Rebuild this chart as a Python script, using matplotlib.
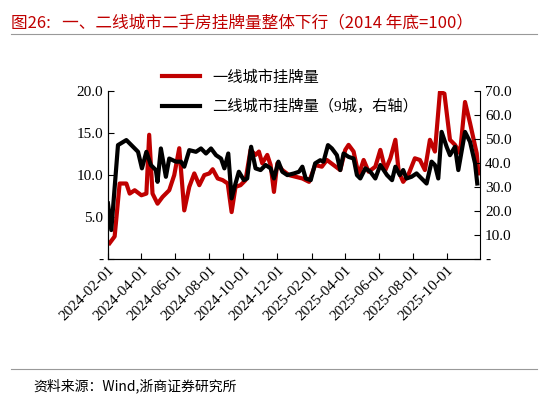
import matplotlib
matplotlib.use("Agg")
import matplotlib.pyplot as plt
import matplotlib.dates as mdates
import pandas as pd

plt.rcParams['font.family'] = ['Liberation Serif', 'Noto Sans CJK SC']

base = pd.Timestamp("2024-02-01")
red_days = [3,12,21,33,39,48,60,69,74,80,89,98,110,119,128,137,146,155,164,173,
            182,188,197,206,215,222,229,238,247,256,265,271,277,286,292,298,304,313,325,337,
            349,361,372,384,393,405,417,426,432,441,450,459,468,480,489,498,507,516,522,530,
            539,551,560,569,578,587,596,604,614,623,632,641,650,662,665]
red_vals = [1.9,2.7,9.0,9.0,7.8,8.2,7.6,7.8,14.8,7.8,6.6,7.4,8.2,10,13.2,5.8,8.6,10.2,8.8,10,
            10.2,10.7,9.6,9.4,9.0,5.6,8.6,8.8,9.4,13,12.4,12.8,11.4,12.4,11.2,8.0,11.4,10.6,10,9.8,
            9.6,9.2,11.2,11,11.8,11.2,10.6,13,13.6,12.8,10,11.8,10.4,11,13,10.6,12,14.2,10.4,9.2,
            10,12,11.8,10.6,14.2,12.8,19.9,19.7,14.2,13.6,12.6,18.7,16.2,12.6,10.2]
blk_days = [0,6,18,33,42,54,61,69,77,86,89,95,104,110,122,131,137,146,158,167,
            176,185,194,203,209,216,222,229,235,244,250,257,265,274,283,292,298,306,313,322,
            334,343,349,355,364,372,381,387,395,402,411,417,423,432,441,447,453,462,471,480,
            489,501,510,516,524,530,536,545,554,563,572,581,587,593,599,608,614,623,629,641,
            650,659,663]
blk_vals = [23.2,12.1,47.5,49.6,47.5,44.7,37.8,44.7,39.2,37.1,32.2,46.1,34.3,41.9,40.6,40.6,38.5,45.4,44.7,46.1,
            44,46.1,43.3,41.9,37.8,44,25.3,31.5,36.4,32.9,33.6,46.8,37.8,37.1,39.2,37.8,33.6,40.6,36.4,35,
            35.7,36.4,38.5,33.6,32.9,39.9,41.2,40.6,47.5,46.1,43.3,37.1,44,42.6,41.9,35,33.6,37.8,36.4,33.6,
            39.2,35,32.9,38.5,35,37.1,33.6,34.3,35.7,33.6,31.5,40.6,39.2,33.6,53,46.8,43.3,46.8,37.1,53,
            48.9,39.9,31.5]
left_ticks = [0, 5, 10, 15, 20]
left_labels = ["-", "5.0", "10.0", "15.0", "20.0"]
right_ticks = [0, 10, 20, 30, 40, 50, 60, 70]
right_labels = ["-", "10.0", "20.0", "30.0", "40.0", "50.0", "60.0", "70.0"]
title = "图26:   一、二线城市二手房挂牌量整体下行（2014 年底=100）"
source = "资料来源：Wind,浙商证券研究所"
red_c = "#c00000"

rd = base + pd.to_timedelta(red_days, unit="D")
bd = base + pd.to_timedelta(blk_days, unit="D")

fig = plt.figure(figsize=(5.48, 4.03), dpi=100)
ax = fig.add_axes([0.197, 0.357, 0.679, 0.417])
ax2 = ax.twinx()
l1, = ax.plot(rd, red_vals, color=red_c, lw=3, label="一线城市挂牌量")
l2, = ax2.plot(bd, blk_vals, color="black", lw=3, label="二线城市挂牌量（9城，右轴）")
ax.set_ylim(0, 20); ax2.set_ylim(0, 70)
ax.set_yticks(left_ticks); ax.set_yticklabels(left_labels, fontsize=11)
ax2.set_yticks(right_ticks); ax2.set_yticklabels(right_labels, fontsize=11)
ax.set_xlim(base, base + pd.Timedelta(days=668))
ax.xaxis.set_major_locator(mdates.MonthLocator(bymonth=[2,4,6,8,10,12]))
ax.xaxis.set_major_formatter(mdates.DateFormatter("%Y-%m-%d"))
for lab in ax.get_xticklabels():
    lab.set_rotation(45); lab.set_ha("right"); lab.set_rotation_mode("anchor"); lab.set_fontsize(11)
for a in (ax, ax2):
    a.spines["top"].set_visible(False)
    a.tick_params(direction="in", length=4)
ax.spines["right"].set_visible(False)
fig.legend(handles=[l1, l2], loc="upper left", bbox_to_anchor=(0.27, 0.86), frameon=False,
           fontsize=11, handlelength=2.5, labelspacing=0.9)
fig.text(0.02, 0.965, title, color=red_c, fontsize=12, va="top", family=['Noto Sans CJK SC'])
fig.add_artist(plt.Line2D([0.02, 0.98], [0.915, 0.915], color="#999999", lw=0.8))
fig.add_artist(plt.Line2D([0.02, 0.98], [0.085, 0.085], color="#999999", lw=0.8))
fig.text(0.06, 0.06, source, fontsize=10, va="top", family=['Noto Sans CJK SC', 'DejaVu Sans'])
fig.savefig("out.png", dpi=100)
